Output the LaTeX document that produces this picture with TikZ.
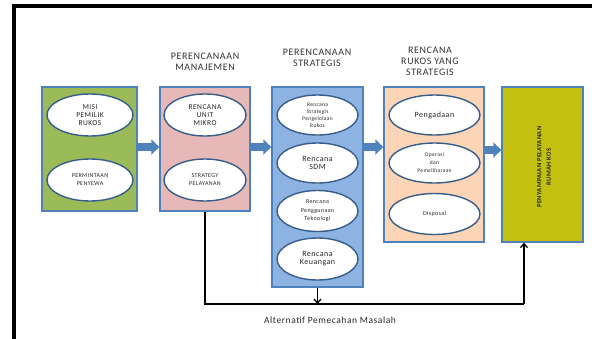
\documentclass[tikz,border=0pt]{standalone}
\usepackage{fontspec}
\setmainfont[LetterSpace=6]{Carlito}
\usetikzlibrary{arrows.meta,shapes.geometric}
\definecolor{gfill}{HTML}{9BBB59}
\definecolor{pfill}{HTML}{E6B9B8}
\definecolor{bfill}{HTML}{8DB3E2}
\definecolor{ofill}{HTML}{FBD5B5}
\definecolor{yfill}{HTML}{C4C00F}
\definecolor{bline}{HTML}{4F81BD}
\definecolor{eline}{HTML}{385D8A}
\tikzset{
  colbox/.style={draw=bline, line width=1.3pt, inner sep=0pt},
  oval/.style={ellipse, draw=eline, fill=white, line width=1.4pt, inner sep=0pt, align=center, text=black!85},
  title/.style={align=center, font=\fontsize{10}{11}\selectfont, text=black!80},
  blockarrow/.style={draw=bline, line width=8pt, -{Triangle[length=8pt,width=15pt]}},
  link/.style={draw=black, line width=1.3pt},
  linkarrow/.style={link, -{Straight Barb[length=4pt,width=7pt]}}
}
\begin{document}
\begin{tikzpicture}[x=1pt,y=-1pt]
\useasboundingbox (0,0) rectangle (592,338);
% frame
\draw[line width=4pt] (14,340) -- (14,6) -- (594,6);
% titles
\node[title] (t1) at (205,62) {PERENCANAAN\\MANAJEMEN};
\node[title] (t2) at (317,58) {PERENCANAAN\\STRATEGIS};
\node[title] (t3) at (430,61) {RENCANA\\RUKOS YANG\\STRATEGIS};
% boxes
\node[colbox, fill=gfill, minimum width=95pt, minimum height=124pt] (g) at (89.5,149) {};
\node[colbox, fill=pfill, minimum width=90pt, minimum height=124pt] (m) at (205,149) {};
\node[colbox, fill=bfill, minimum width=91pt, minimum height=200pt] (b) at (317.5,187) {};
\node[colbox, fill=ofill, minimum width=100pt, minimum height=155pt] (o) at (434,164.5) {};
\node[colbox, fill=yfill, minimum width=81pt, minimum height=155pt] (y) at (542.5,164.5) {};
% ellipses green
\node[oval, minimum width=86pt, minimum height=42pt, font=\fontsize{7.5}{8}\selectfont] (g1) at (90,115) {MISI\\PEMILIK\\RUKOS};
\node[oval, minimum width=86pt, minimum height=42pt, font=\fontsize{6}{8}\selectfont] (g2) at (90,180) {PERMINTAAN\\PENYEWA};
% ellipses pink
\node[oval, minimum width=82pt, minimum height=42pt, font=\fontsize{7.5}{8}\selectfont] (m1) at (205,115) {RENCANA\\UNIT\\MIKRO};
\node[oval, minimum width=82pt, minimum height=42pt, font=\fontsize{6}{8}\selectfont] (m2) at (205,180) {STRATEGY\\PELAYANAN};
% ellipses blue
\node[oval, minimum width=81pt, minimum height=40pt, font=\fontsize{5.5}{7}\selectfont] (b1) at (317.5,115) {Rencana\\Strategis\\Pengelolaan\\Rukos};
\node[oval, minimum width=81pt, minimum height=40pt, font=\fontsize{8}{8}\selectfont] (b2) at (317.5,163) {Rencana\\SDM};
\node[oval, minimum width=81pt, minimum height=41pt, font=\fontsize{6}{8.5}\selectfont] (b3) at (317.5,211) {Rencana\\Penggunaan\\Teknologi};
\node[oval, minimum width=81pt, minimum height=42pt, font=\fontsize{8}{8}\selectfont] (b4) at (317.5,259) {Rencana\\Keuangan};
% ellipses orange
\node[oval, minimum width=91pt, minimum height=40pt, font=\fontsize{8}{8}\selectfont] (o1) at (434.5,115) {Pengadaan};
\node[oval, minimum width=91pt, minimum height=40pt, font=\fontsize{5.5}{8}\selectfont] (o2) at (434.5,163) {Operasi\\dan\\Pemeliharaan};
\node[oval, minimum width=91pt, minimum height=41pt, font=\fontsize{6}{7}\selectfont] (o3) at (434.5,214) {Disposal};
% olive text
\node[rotate=90, align=center, font=\bfseries\fontsize{6.5}{9.5}\selectfont, text=black!85] (yt) at (544,167) {PENYAMPAIAN PELAYANAN\\RUMAH KOS};
% block arrows
\draw[blockarrow] (g.east|-0,147) -- (m.west|-0,147);
\draw[blockarrow] (m.east|-0,147) -- (b.west|-0,147);
\draw[blockarrow] (b.east|-0,147) -- (o.west|-0,147);
\draw[blockarrow] (o.east|-0,150) -- (y.west|-0,150);
% connectors
\coordinate (c1) at (205,304);
\coordinate (c2) at (524,304);
\draw[link] (m.south) -- (c1) -- (c2);
\draw[linkarrow] (c2) -- (c2|-y.south);
\draw[linkarrow] (b.south) -- (b.south|-c1);
\node[font=\fontsize{9.5}{10}\selectfont, text=black!85] (lab) at (330,320) {Alternatif Pemecahan Masalah};
\end{tikzpicture}
\end{document}
